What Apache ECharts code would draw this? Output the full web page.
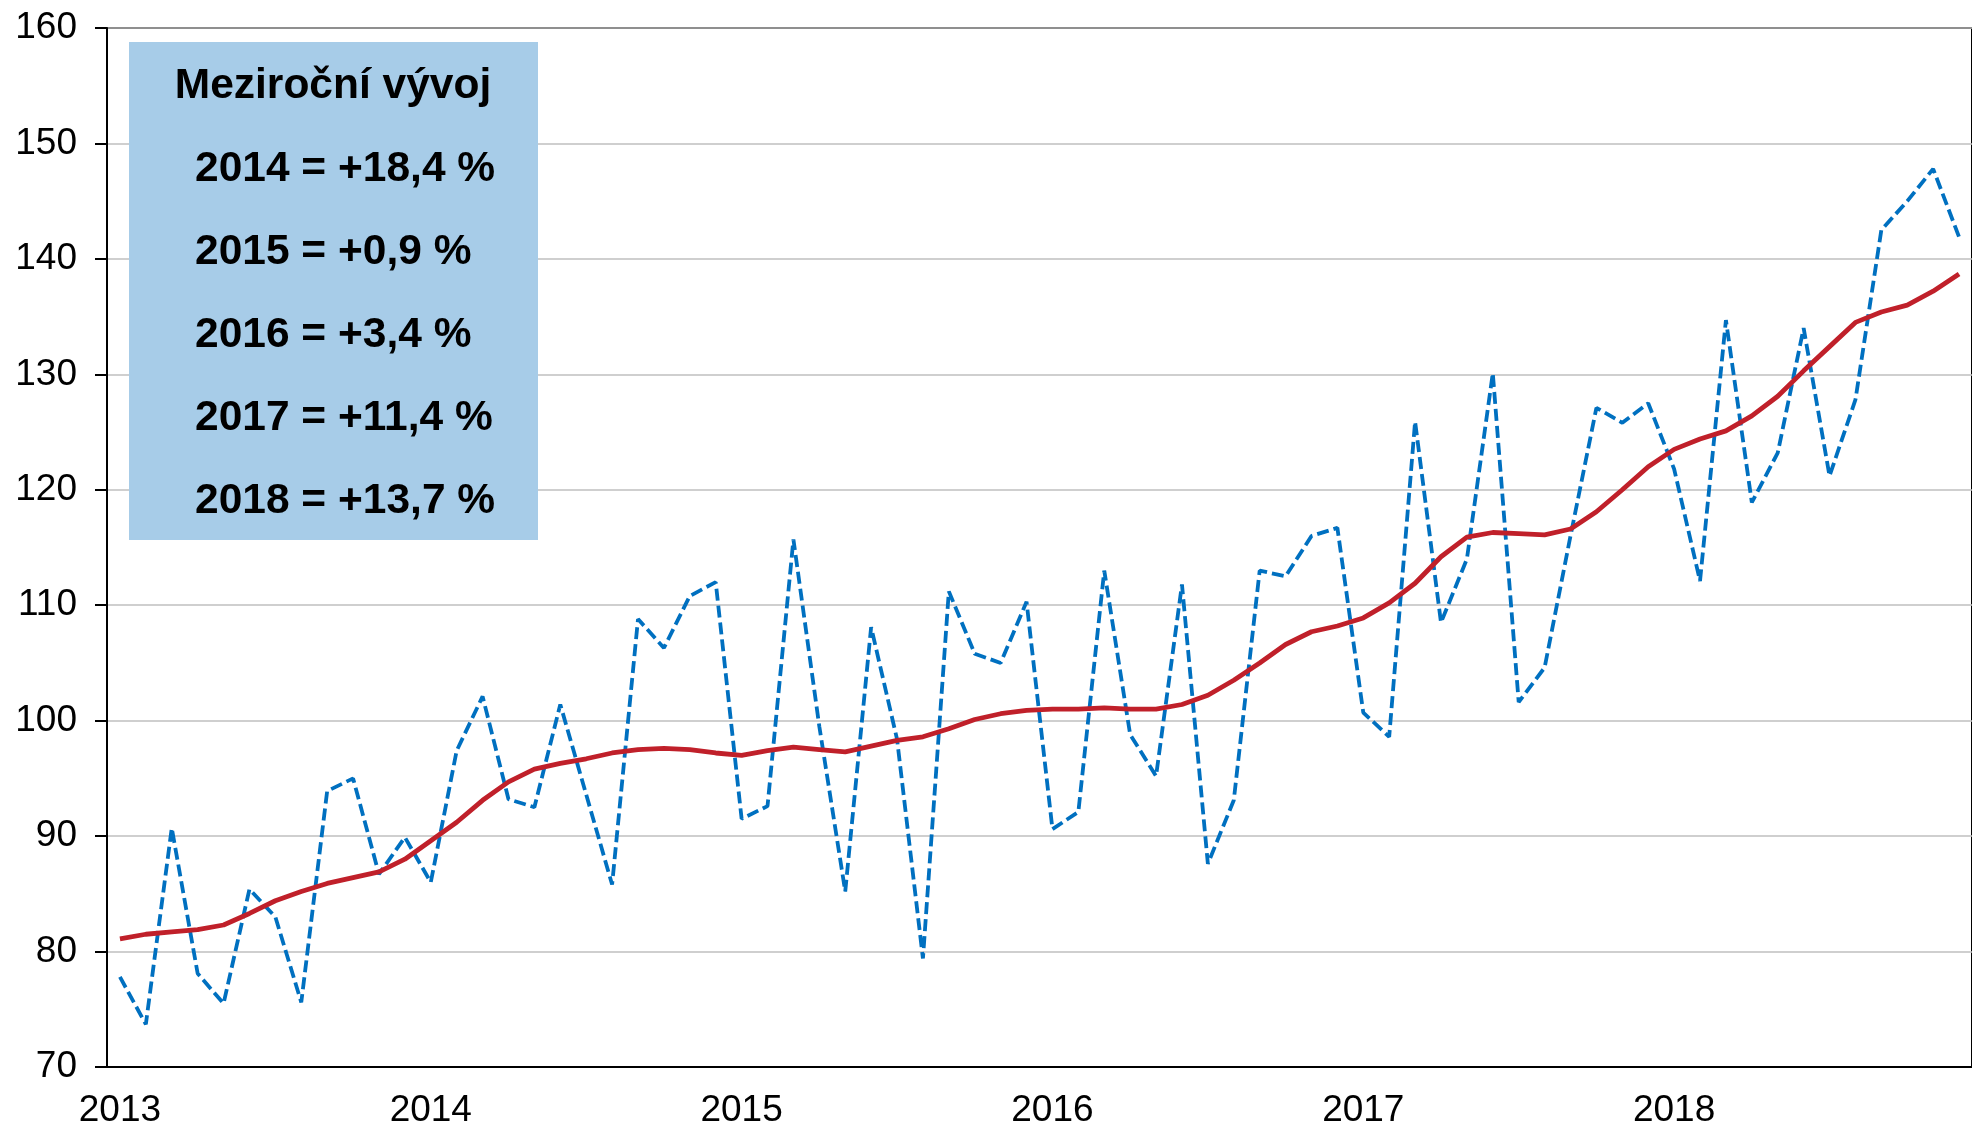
<!DOCTYPE html>
<html>
<head>
<meta charset="utf-8">
<script src="https://cdn.jsdelivr.net/npm/echarts@6/dist/echarts.min.js"></script>
<style>
    html, body { margin: 0; padding: 0; background: #fff; }
    #chart { width: 1972px; height: 1129px; }
</style>
</head>
<body>
<div id="chart"></div>
<script>
// roky na ose x (každý rok 12 měsíců)
const years = [2013, 2014, 2015, 2016, 2017, 2018];

// měsíční index (modrá přerušovaná čára)
const monthlyIndex = [
    77.8, 73.7, 90.7, 78.1, 75.5, 85.4, 83.0, 75.6, 93.9, 95.0, 86.7, 89.9,
    86.0, 97.4, 102.1, 93.2, 92.5, 101.4, 93.6, 85.8, 108.8, 106.3, 110.8, 112.0,
    91.5, 92.6, 115.7, 99.5, 85.2, 108.1, 98.4, 79.4, 111.2, 105.8, 105.0, 110.3,
    90.6, 92.1, 113.0, 98.8, 95.2, 111.8, 87.6, 93.1, 113.0, 112.5, 116.0, 116.7,
    100.7, 98.6, 125.9, 108.5, 114.0, 130.1, 101.6, 104.6, 116.0, 127.1, 125.8, 127.5,
    121.8, 112.1, 134.7, 118.9, 123.2, 134.0, 121.2, 127.8, 142.5, 145.0, 147.8, 141.9
];

// klouzavý průměr (červená čára)
const movingAverage = [
    81.1, 81.5, 81.7, 81.9, 82.3, 83.3, 84.4, 85.2, 85.9, 86.4, 86.9, 88.0,
    89.6, 91.2, 93.1, 94.7, 95.8, 96.3, 96.7, 97.2, 97.5, 97.6, 97.5, 97.2,
    97.0, 97.4, 97.7, 97.5, 97.3, 97.8, 98.3, 98.6, 99.3, 100.1, 100.6, 100.9,
    101.0, 101.0, 101.1, 101.0, 101.0, 101.4, 102.2, 103.5, 105.0, 106.6, 107.7, 108.2,
    108.9, 110.2, 111.9, 114.2, 115.9, 116.3, 116.2, 116.1, 116.6, 118.1, 120.0, 122.0,
    123.5, 124.4, 125.1, 126.4, 128.1, 130.3, 132.4, 134.5, 135.4, 136.0, 137.2, 138.7
];

// meziroční vývoj v rámečku
const growthTitle = 'Meziroční vývoj';
const growthYears = ['2014', '2015', '2016', '2017', '2018'];
const growthValues = ['+18,4 %', '+0,9 %', '+3,4 %', '+11,4 %', '+13,7 %'];

// kategorie osy x: měsíc/rok
const categories = [];
years.forEach(y => {
    for (let m = 1; m <= 12; m++) categories.push(m + '/' + y);
});

const FONT = '"Liberation Sans", Arial, sans-serif';

// rámeček s textem
const boxTexts = [{
    type: 'text',
    x: 333,
    y: 86,
    style: {
        text: growthTitle,
        fontFamily: FONT,
        fontSize: 42.5,
        fontWeight: 'bold',
        fill: '#000',
        align: 'center',
        verticalAlign: 'middle'
    }
}];
growthYears.forEach((y, i) => {
    boxTexts.push({
        type: 'text',
        x: 195,
        y: 169 + i * 83,
        style: {
            text: y + ' = ' + growthValues[i],
            fontFamily: FONT,
            fontSize: 42.5,
            fontWeight: 'bold',
            fill: '#000',
            align: 'left',
            verticalAlign: 'middle'
        }
    });
});

const chart = echarts.init(document.getElementById('chart'), null, { renderer: 'canvas' });

chart.setOption({
    animation: false,
    backgroundColor: '#fff',
    textStyle: { fontFamily: FONT },
    grid: {
        left: 107,
        right: -8,
        top: 28,
        bottom: 61,
        show: true,
        borderColor: '#000',
        borderWidth: 2
    },
    xAxis: {
        type: 'category',
        data: categories,
        boundaryGap: true,
        axisLine: { lineStyle: { color: '#000', width: 2 } },
        axisTick: {
            interval: 0,
            length: 11,
            lineStyle: { color: '#000', width: 2 }
        },
        axisLabel: {
            interval: (index) => index % 12 === 0,
            formatter: (value) => value.split('/')[1],
            color: '#000',
            fontSize: 37,
            fontFamily: FONT,
            margin: 25
        },
        splitLine: { show: false }
    },
    yAxis: {
        type: 'value',
        min: 70,
        max: 160,
        interval: 10,
        axisLine: { show: true, lineStyle: { color: '#000', width: 2 } },
        axisTick: { show: true, length: 12, lineStyle: { color: '#000', width: 2 } },
        axisLabel: {
            color: '#000',
            fontSize: 37,
            fontFamily: FONT,
            margin: 30
        },
        splitLine: { lineStyle: { color: '#bfbfbf', width: 1.5 } }
    },
    graphic: [
        {
            type: 'rect',
            shape: { x: 129, y: 42, width: 409, height: 498 },
            style: { fill: '#a7cce8' },
            z: 10
        }
    ].concat(boxTexts.map(t => Object.assign(t, { z: 11 }))),
    series: [
        {
            name: 'Index',
            type: 'line',
            data: monthlyIndex,
            symbol: 'none',
            lineStyle: { color: '#0070c0', width: 3.8, type: [12, 5] },
            z: 2
        },
        {
            name: 'Klouzavý průměr',
            type: 'line',
            data: movingAverage,
            symbol: 'none',
            lineStyle: { color: '#c0202a', width: 4.8 },
            z: 3
        }
    ]
});
</script>
</body>
</html>
